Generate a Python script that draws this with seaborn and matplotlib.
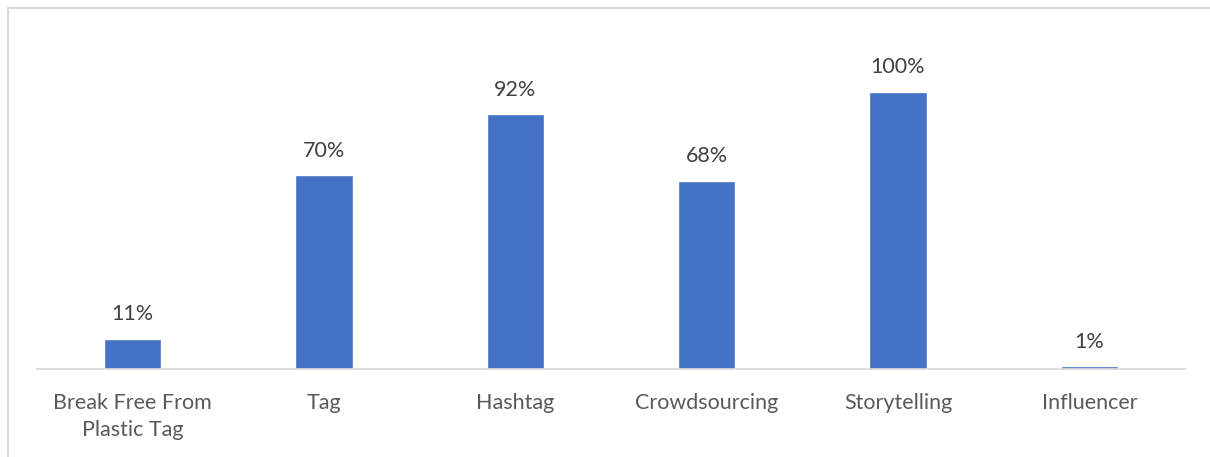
import matplotlib
matplotlib.use("Agg")
import matplotlib.pyplot as plt
from matplotlib.lines import Line2D
import seaborn as sns
import pandas as pd

categories = ["Break Free From\nPlastic Tag", "Tag", "Hashtag", "Crowdsourcing", "Storytelling", "Influencer"]
shares = [0.11, 0.70, 0.92, 0.68, 1.00, 0.01]

df = pd.DataFrame({"category": categories, "share": shares})

sns.set_theme(style="white")
plt.rcParams["font.family"] = ["Lato", "DejaVu Sans"]

fig = plt.figure(figsize=(12.1, 4.57), dpi=100)
ax = fig.add_axes([37 / 1210, 88 / 457, 1148 / 1210, 332.4 / 457])

sns.barplot(data=df, x="category", y="share", color="#4472C4", width=0.30,
            saturation=1, ax=ax)

ax.set_ylim(0, 1.2)
ax.set_xlim(-0.5, 5.5)
ax.bar_label(ax.containers[0], labels=[f"{v:.0%}" for v in shares],
             padding=10.5, fontsize=15.5, color="#404040")

ax.set_xlabel("")
ax.set_ylabel("")
ax.set_yticks([])
for side in ["top", "left", "right"]:
    ax.spines[side].set_visible(False)
ax.spines["bottom"].set_color("#D9D9D9")
ax.spines["bottom"].set_linewidth(1.2)
ax.tick_params(axis="x", length=0, pad=17.5, labelsize=15.5, colors="#595959")
for lbl in ax.get_xticklabels():
    lbl.set_linespacing(1.4)

# outer chart frame (only top and left edges are visible in the crop)
fig.add_artist(Line2D([7.5 / 1210, 1], [1 - 7.5 / 457, 1 - 7.5 / 457],
                      transform=fig.transFigure, color="#D9D9D9", lw=1.5))
fig.add_artist(Line2D([7.5 / 1210, 7.5 / 1210], [0, 1 - 7.5 / 457],
                      transform=fig.transFigure, color="#D9D9D9", lw=1.5))

fig.savefig("out.png", dpi=100)
